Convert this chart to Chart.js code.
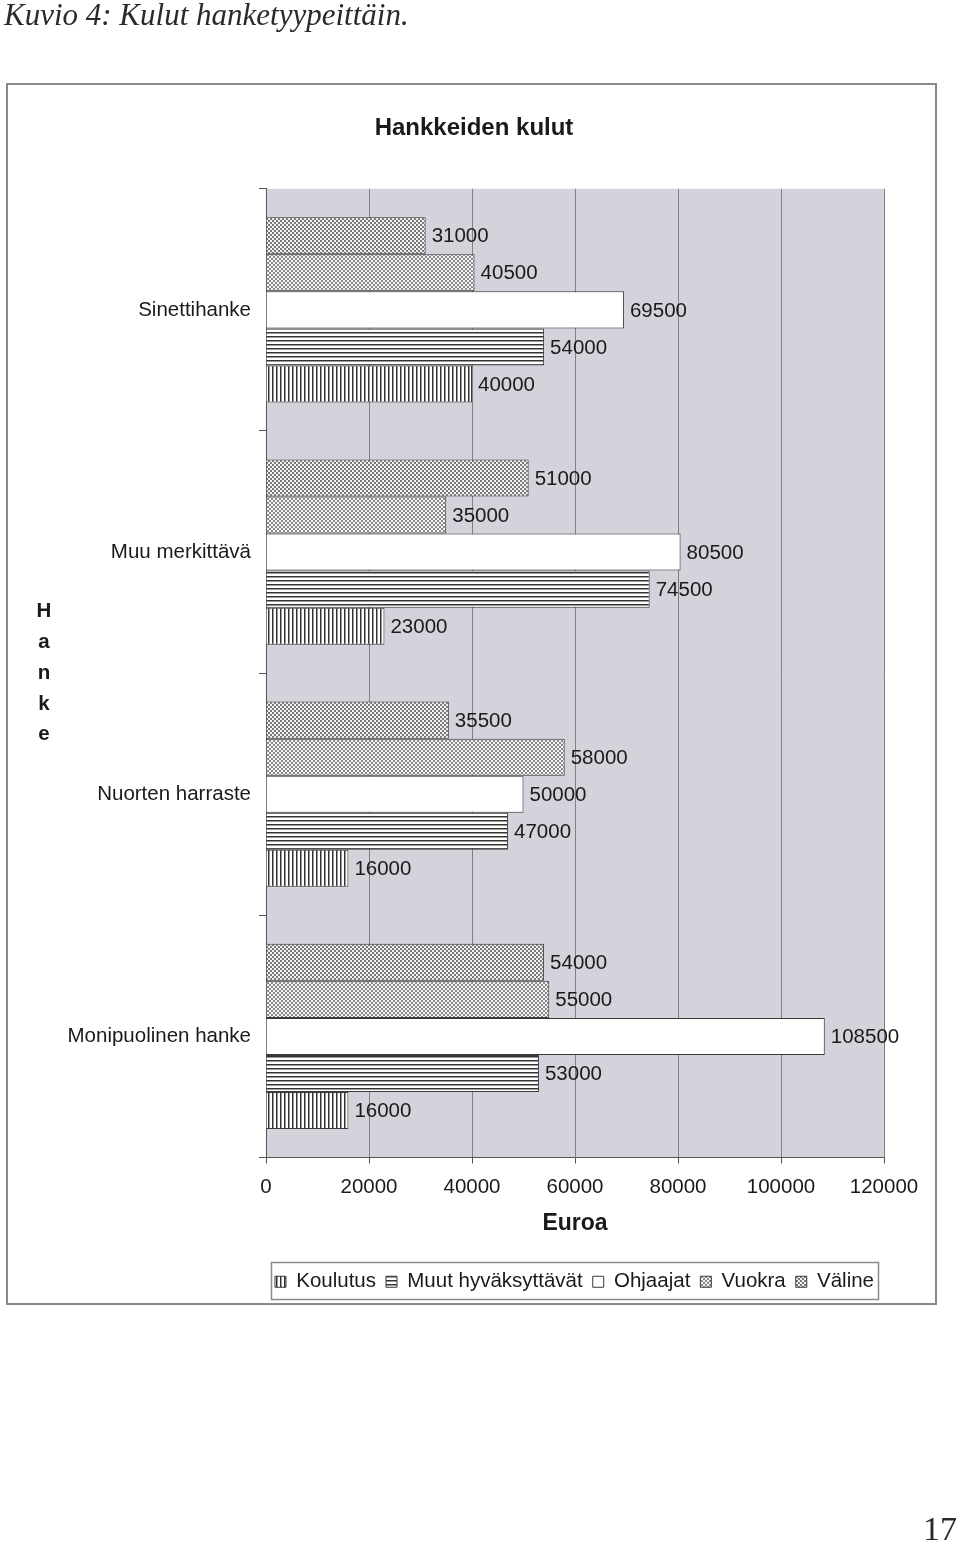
<!DOCTYPE html>
<html>
<head>
<meta charset="utf-8">
<script src="https://cdn.jsdelivr.net/npm/chart.js@4"></script>
<style>
  html, body { margin: 0; padding: 0; background: #fff; }
  #wrap { position: relative; width: 960px; height: 1546px; overflow: hidden; }
  #c { position: absolute; left: 0; top: 0; }
  .caption { position: absolute; left: 4px; top: -3px; font-family: "Liberation Serif", "DejaVu Serif", serif; font-style: italic; font-size: 31px; color: #2a2a2a; white-space: nowrap; }
  .pagenum { position: absolute; left: 923px; top: 1510px; font-family: "Liberation Serif", "DejaVu Serif", serif; font-size: 34px; color: #2a2a2a; }
</style>
</head>
<body>
<div id="wrap">
  <canvas id="c" width="960" height="1546"></canvas>
  <div class="caption">Kuvio 4: Kulut hanketyypeittäin.</div>
  <div class="pagenum">17</div>
</div>
<script>
// ---- data ----
const categories = ['Sinettihanke', 'Muu merkittävä', 'Nuorten harraste', 'Monipuolinen hanke'];
const seriesNames = ['Väline', 'Vuokra', 'Ohjaajat', 'Muut hyväksyttävät', 'Koulutus'];
const valine   = [31000, 51000, 35500, 54000];
const vuokra   = [40500, 35000, 58000, 55000];
const ohjaajat = [69500, 80500, 50000, 108500];
const muut     = [54000, 74500, 47000, 53000];
const koulutus = [40000, 23000, 16000, 16000];
const xTicksMin = 0, xTicksMax = 120000, xTicksStep = 20000;
const chartTitle = 'Hankkeiden kulut';
const xTitle = 'Euroa';
const yTitle = 'Hanke';

// ---- patterns ----
function makePattern(w, h, draw) {
  const c = document.createElement('canvas');
  c.width = w; c.height = h;
  const g = c.getContext('2d');
  draw(g);
  return document.getElementById('c').getContext('2d').createPattern(c, 'repeat');
}
const patValine = makePattern(4, 4, g => {
  g.fillStyle = '#f2f2f2'; g.fillRect(0, 0, 4, 4);
  g.fillStyle = '#7a7a7a'; g.fillRect(0, 0, 2, 2); g.fillRect(2, 2, 2, 2);
});
const patVuokra = makePattern(4, 4, g => {
  g.fillStyle = '#f4f4f4'; g.fillRect(0, 0, 4, 4);
  g.fillStyle = '#8a8a8a'; g.fillRect(1, 0, 2, 2); g.fillRect(3, 2, 1, 2); g.fillRect(0, 2, 1, 2);
});
const patMuut = makePattern(4, 4, g => {
  g.fillStyle = '#ffffff'; g.fillRect(0, 0, 4, 4);
  g.fillStyle = '#333333'; g.fillRect(0, 0, 4, 1);
  g.fillStyle = '#9a9a9a'; g.fillRect(0, 1, 4, 1);
});
const patKoulutus = makePattern(4, 4, g => {
  g.fillStyle = '#ffffff'; g.fillRect(0, 0, 4, 4);
  g.fillStyle = '#333333'; g.fillRect(0, 0, 1, 4);
  g.fillStyle = '#9a9a9a'; g.fillRect(1, 0, 1, 4);
});

const FONT = '"Liberation Sans", Arial, sans-serif';
const textColor = '#1a1a1a';

const plotBg = {
  id: 'plotBg',
  beforeDraw(chart) {
    const { ctx, chartArea: a } = chart;
    ctx.save();
    ctx.strokeStyle = '#8a8a8a';
    ctx.lineWidth = 2;
    ctx.strokeRect(7, 84, 929, 1220);
    ctx.fillStyle = '#d3d4db';
    ctx.fillRect(a.left, a.top, a.right - a.left, a.bottom - a.top);
    ctx.restore();
  }
};

const valueLabels = {
  id: 'valueLabels',
  afterDatasetsDraw(chart) {
    const { ctx } = chart;
    ctx.save();
    ctx.font = '20.5px ' + FONT;
    ctx.fillStyle = textColor;
    ctx.textAlign = 'left';
    ctx.textBaseline = 'middle';
    chart.data.datasets.forEach((ds, di) => {
      const meta = chart.getDatasetMeta(di);
      meta.data.forEach((bar, i) => {
        ctx.fillText(String(ds.data[i]), bar.x + 6, bar.y + 1);
      });
    });
    ctx.restore();
  }
};

const extras = {
  id: 'extras',
  afterDraw(chart) {
    const { ctx, chartArea: a } = chart;
    ctx.save();
    ctx.font = 'bold 20.5px ' + FONT;
    ctx.fillStyle = textColor;
    ctx.textAlign = 'center';
    ctx.textBaseline = 'middle';
    const cy = (a.top + a.bottom) / 2;
    const letters = yTitle.split('');
    letters.forEach((ch, i) => {
      ctx.fillText(ch, 44, cy + (i - (letters.length - 1) / 2) * 30.8);
    });
    const lg = chart.legend;
    if (lg && lg.legendHitBoxes && lg.legendHitBoxes.length) {
      const hb = lg.legendHitBoxes;
      const l = Math.min(...hb.map(h => h.left)) - 4;
      const r = Math.max(...hb.map(h => h.left + h.width)) + 4;
      const t = hb[0].top - 10;
      const b = hb[0].top + hb[0].height + 6;
      ctx.strokeStyle = '#8a8a8a';
      ctx.lineWidth = 1.5;
      ctx.strokeRect(Math.round(l) + 0.5, Math.round(t) + 0.5, Math.round(r - l), Math.round(b - t));
    }
    ctx.restore();
  }
};

const datasets = [
  { label: seriesNames[0], data: valine,   backgroundColor: patValine },
  { label: seriesNames[1], data: vuokra,   backgroundColor: patVuokra },
  { label: seriesNames[2], data: ohjaajat, backgroundColor: '#ffffff' },
  { label: seriesNames[3], data: muut,     backgroundColor: patMuut },
  { label: seriesNames[4], data: koulutus, backgroundColor: patKoulutus }
].map(d => Object.assign(d, {
  borderColor: '#3a3a3a',
  borderWidth: 1,
  categoryPercentage: 0.765,
  barPercentage: 1.0
}));

new Chart(document.getElementById('c'), {
  type: 'bar',
  data: { labels: categories, datasets },
  plugins: [plotBg, valueLabels, extras],
  options: {
    indexAxis: 'y',
    responsive: false,
    animation: false,
    devicePixelRatio: 1,
    layout: { padding: { left: 64, right: 76, top: 84, bottom: 244 } },
    plugins: {
      title: {
        display: true,
        text: chartTitle,
        color: textColor,
        font: { family: '"Liberation Sans Narrow", "Liberation Sans", Arial, sans-serif', size: 24, weight: 'bold', lineHeight: 1.2 },
        padding: { top: 30, bottom: 46 }
      },
      legend: {
        display: true,
        position: 'bottom',
        align: 'end',
        reverse: true,
        labels: {
          color: textColor,
          font: { family: FONT, size: 20.5 },
          boxWidth: 11,
          boxHeight: 11,
          padding: 10
        }
      },
      tooltip: { enabled: false }
    },
    scales: {
      x: {
        type: 'linear',
        min: xTicksMin,
        max: xTicksMax,
        ticks: { stepSize: xTicksStep, color: textColor, font: { family: FONT, size: 20.5 }, padding: 12, maxRotation: 0,
                 callback: v => String(v) },
        grid: { color: '#808080', lineWidth: 1, drawTicks: true, tickLength: 6, tickColor: '#555' },
        border: { display: true, color: '#555', width: 1 },
        title: { display: true, text: xTitle, color: textColor, font: { family: FONT, size: 23, weight: 'bold', lineHeight: 1.2 }, padding: { top: 4, bottom: 24 } },
        afterFit(scale) { scale.height = 104; }
      },
      y: {
        type: 'category',
        ticks: { color: textColor, font: { family: FONT, size: 20.5 }, padding: 8 },
        grid: { offset: true, drawOnChartArea: false, drawTicks: true, tickLength: 7, color: '#555' },
        border: { display: true, color: '#555', width: 1 },
        afterFit(scale) { scale.width = 202; }
      }
    }
  }
});
</script>
</body>
</html>
